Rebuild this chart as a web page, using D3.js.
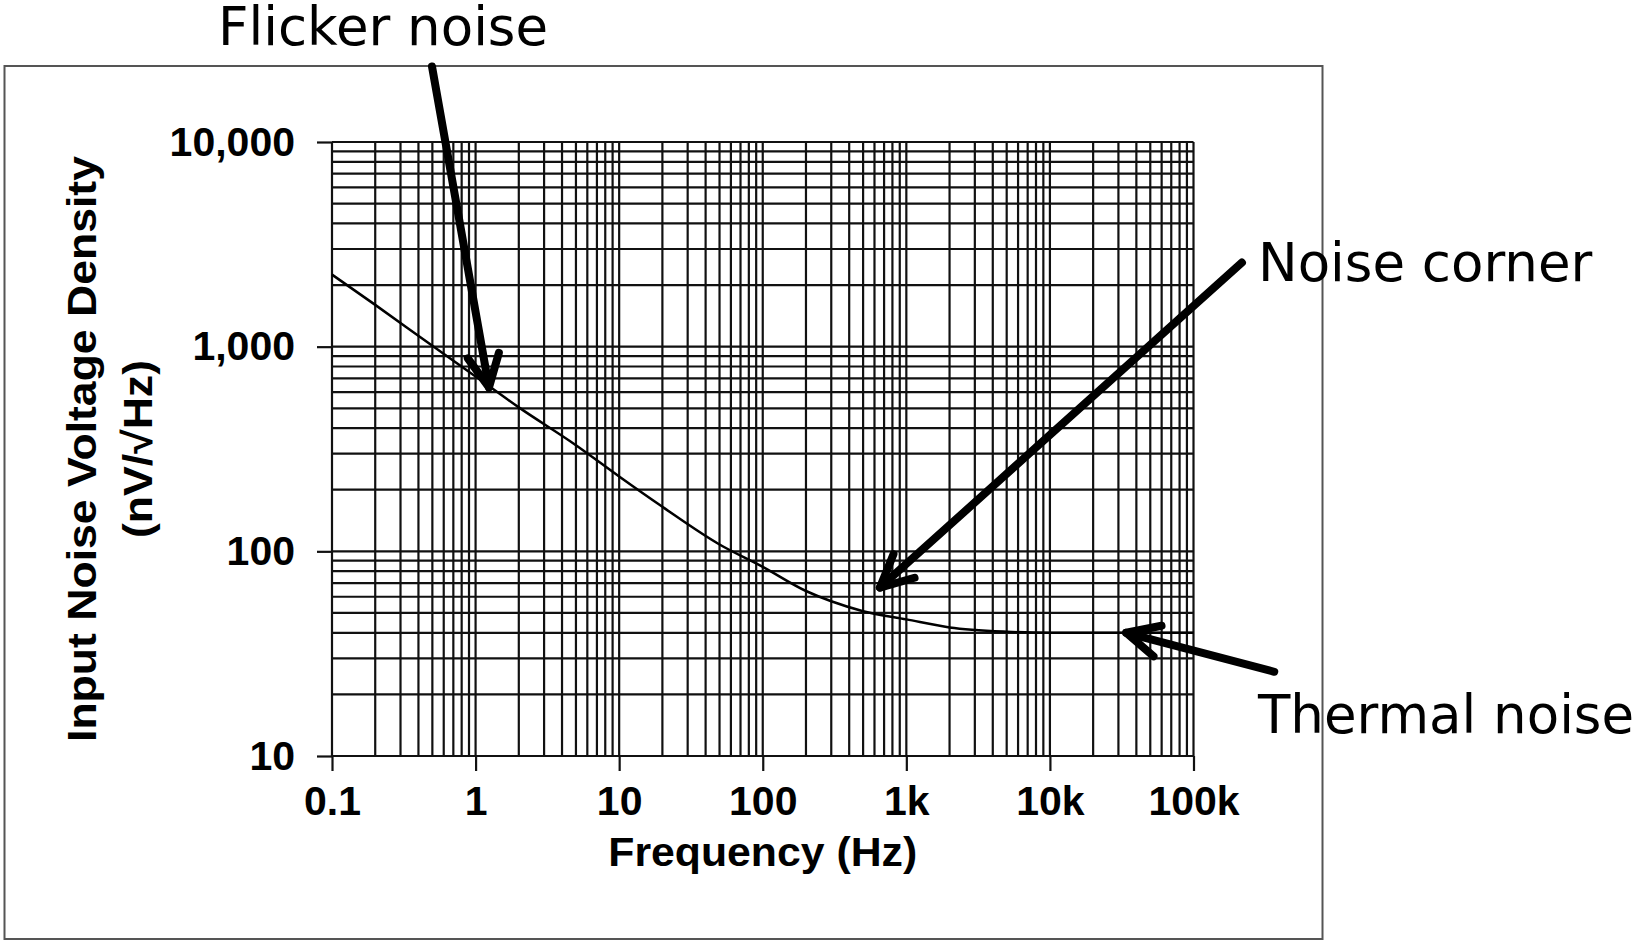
<!DOCTYPE html>
<html>
<head>
<meta charset="utf-8">
<script src="https://cdn.jsdelivr.net/npm/d3@7"></script>
<style>
  body { margin: 0; background: #fff; }
  .tick-label { font-family: "Liberation Sans", Arial, sans-serif; font-weight: bold; font-size: 41px; fill: #000; }
  .axis-title { font-family: "Liberation Sans", Arial, sans-serif; font-weight: bold; font-size: 41px; fill: #000; }
  .note { font-family: "DejaVu Sans", Verdana, sans-serif; font-size: 53px; fill: #000; }
</style>
</head>
<body>
<div id="chart"></div>
<script>
// noise curve (Hz, nV/sqrt(Hz))
var frequencies = [0.1, 0.2, 0.5, 1, 2, 5, 10, 20, 50, 100, 200, 300, 500, 1000, 2000, 5000, 10000, 20000, 50000, 100000];
var noiseDensity = [2250, 1600, 1010, 715, 505, 330, 232, 165, 108, 84, 64, 57, 51, 46.5, 42.5, 40.5, 40, 40, 40, 40];

var xTickValues = [0.1, 1, 10, 100, 1000, 10000, 100000];
var xTickLabels = ["0.1", "1", "10", "100", "1k", "10k", "100k"];
var yTickValues = [10, 100, 1000, 10000];
var yTickLabels = ["10", "100", "1,000", "10,000"];

// arrow tips in data units, tails as pixel offsets from the tip
var noteNames = ["Flicker noise", "Noise corner", "Thermal noise"];
var noteTipF = [1.24, 655, 34000];
var noteTipV = [632, 66.5, 40];
var noteTail = [[-57, -321], [362, -325], [148, 39]];
var notePos = [[218, 45], [1258, 281], [1258, 733]];

var width = 1641,
    height = 943;
var plot = { left: 332, right: 1193.5, top: 142, bottom: 756 };
var svg, x, y;

createSVG();
drawFrame();
drawGrid();
drawAxes();
drawCurve();
drawNotes();

function createSVG() {
  svg = d3.select("#chart")
    .append("svg")
      .attr("width", width)
      .attr("height", height);

  x = d3.scaleLog().domain([0.1, 100000]).range([plot.left, plot.right]);
  y = d3.scaleLog().domain([10, 10000]).range([plot.bottom, plot.top]);
}

function drawFrame() {
  svg.append("rect")
    .attr("x", 4.5)
    .attr("y", 66)
    .attr("width", 1318)
    .attr("height", 873)
    .attr("fill", "none")
    .attr("stroke", "#555")
    .attr("stroke-width", 2);
}

// full log grid, 1..9 per decade
function drawGrid() {
  var grid = svg.append("g").attr("class", "grid")
    .attr("stroke", "#111")
    .attr("stroke-width", 2.2);

  grid.selectAll("line.v")
    .data(x.ticks())
    .enter()
      .append("line")
      .attr("class", "v")
      .attr("x1", function(d) { return x(d); })
      .attr("x2", function(d) { return x(d); })
      .attr("y1", plot.top)
      .attr("y2", plot.bottom);

  grid.selectAll("line.h")
    .data(y.ticks())
    .enter()
      .append("line")
      .attr("class", "h")
      .attr("x1", plot.left)
      .attr("x2", plot.right)
      .attr("y1", function(d) { return y(d); })
      .attr("y2", function(d) { return y(d); });
}

function drawAxes() {
  var xAxis = d3.axisBottom(x)
    .tickValues(xTickValues)
    .tickFormat(function(d, i) { return xTickLabels[i]; })
    .tickSize(15)
    .tickPadding(15);

  var yAxis = d3.axisLeft(y)
    .tickValues(yTickValues)
    .tickFormat(function(d, i) { return yTickLabels[i]; })
    .tickSize(15)
    .tickPadding(22);

  var gx = svg.append("g")
    .attr("transform", "translate(0," + plot.bottom + ")")
    .call(xAxis);
  var gy = svg.append("g")
    .attr("transform", "translate(" + plot.left + ",0)")
    .call(yAxis);

  [gx, gy].forEach(function(g) {
    g.select(".domain").remove();
    g.selectAll(".tick line").attr("stroke", "#111").attr("stroke-width", 2.2);
    g.selectAll(".tick text")
      .attr("class", "tick-label")
      .attr("font-size", null)
      .attr("font-family", null);
    g.attr("font-size", null).attr("font-family", null);
  });

  svg.append("text")
    .attr("class", "axis-title")
    .attr("x", (plot.left + plot.right) / 2)
    .attr("y", 866)
    .attr("text-anchor", "middle")
    .attr("textLength", 309)
    .attr("lengthAdjust", "spacingAndGlyphs")
    .text("Frequency (Hz)");

  var cy = (plot.top + plot.bottom) / 2;
  svg.append("text")
    .attr("class", "axis-title")
    .attr("transform", "translate(96," + cy + ") rotate(-90)")
    .attr("text-anchor", "middle")
    .attr("textLength", 586)
    .attr("lengthAdjust", "spacingAndGlyphs")
    .text("Input Noise Voltage Density");

  svg.append("text")
    .attr("class", "axis-title")
    .attr("transform", "translate(152," + cy + ") rotate(-90)")
    .attr("text-anchor", "middle")
    .attr("textLength", 178)
    .attr("lengthAdjust", "spacingAndGlyphs")
    .text("(nV/\u221AHz)");
}

function drawCurve() {
  var points = frequencies.map(function(f, i) { return [f, noiseDensity[i]]; });
  var line = d3.line()
    .x(function(d) { return x(d[0]); })
    .y(function(d) { return y(d[1]); })
    .curve(d3.curveMonotoneX);

  svg.append("path")
    .datum(points)
    .attr("d", line)
    .attr("fill", "none")
    .attr("stroke", "#000")
    .attr("stroke-width", 2.5);
}

//注释箭头
function drawNotes() {
  var headLen = 36,
      headAngle = 26 * Math.PI / 180;

  noteNames.forEach(function(name, i) {
    var tx = x(noteTipF[i]),
        ty = y(noteTipV[i]);
    var sx = tx + noteTail[i][0],
        sy = ty + noteTail[i][1];
    var ang = Math.atan2(sy - ty, sx - tx);

    var g = svg.append("g")
      .attr("stroke", "#000")
      .attr("stroke-width", 8)
      .attr("fill", "none")
      .attr("stroke-linecap", "round")
      .attr("stroke-linejoin", "round");

    g.append("line")
      .attr("x1", sx).attr("y1", sy)
      .attr("x2", tx).attr("y2", ty);

    var w1 = [tx + headLen * Math.cos(ang - headAngle), ty + headLen * Math.sin(ang - headAngle)],
        w2 = [tx + headLen * Math.cos(ang + headAngle), ty + headLen * Math.sin(ang + headAngle)];
    g.append("path")
      .attr("d", "M" + w1 + "L" + tx + "," + ty + "L" + w2);

    svg.append("text")
      .attr("class", "note")
      .attr("x", notePos[i][0])
      .attr("y", notePos[i][1])
      .text(name);
  });
}
</script>
</body>
</html>
